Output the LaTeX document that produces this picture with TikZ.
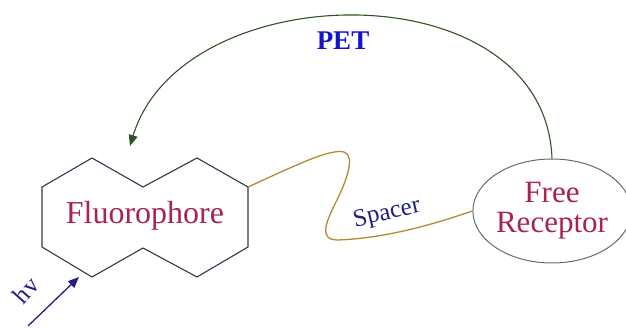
\documentclass[tikz,border=0pt]{standalone}
\usepackage{fontspec}
\setmainfont{Liberation Serif}
\usetikzlibrary{arrows.meta, positioning, shapes.geometric}

\definecolor{labelred}{HTML}{A8234F}
\definecolor{navyline}{HTML}{1F1F85}
\definecolor{petblue}{HTML}{1414C8}
\definecolor{arrowgreen}{HTML}{2F5526}
\definecolor{spacercol}{HTML}{B58A2E}
\definecolor{ringgray}{HTML}{35354F}
\definecolor{ellgray}{HTML}{5F6E62}

\begin{document}
\begin{tikzpicture}[
    x=1pt, y=-1pt,
    ring/.style={draw=ringgray, line width=1.1pt, line join=miter},
    receptor/.style={ellipse, draw=ellgray, line width=1pt, minimum width=144pt, minimum height=104pt, inner sep=0pt, align=center, text=labelred, font=\fontsize{31}{34}\selectfont},
    redlabel/.style={text=labelred, font=\fontsize{32}{34}\selectfont},
    bluelabel/.style={text=navyline, inner sep=1pt, font=\fontsize{25}{27}\selectfont},
    >={Triangle[length=11pt, width=9pt]}
]
\useasboundingbox (0,0) rectangle (626,328);

% Fluorophore outline (two fused rings)
\coordinate (lt) at (42,187);
\coordinate (p1) at (92,158);
\coordinate (v1) at (143,187);
\coordinate (p2) at (197,158);
\coordinate (rt) at (248,187);
\coordinate (rb) at (248,247);
\coordinate (q2) at (197,277);
\coordinate (v2) at (143,248);
\coordinate (q1) at (92,277);
\coordinate (lb) at (42,247);
\draw[ring] (lt) -- (p1) -- (v1) -- (p2) -- (rt) -- (rb) -- (q2) -- (v2) -- (q1) -- (lb) -- cycle;
\node[redlabel] (fluor) at (145,216) {Fluorophore};

% Receptor
\node[receptor] (rec) at (552,211) {Free\\[-4pt]Receptor};

% Spacer chain
\draw[spacercol, line width=1.3pt] (rt) .. controls (290,168) and (330,148) .. (344,152)
    .. controls (356,156) and (346,182) .. (336,202)
    .. controls (326,222) and (318,240) .. (338,240)
    .. controls (390,238) and (440,222) .. (rec.west);
\node[bluelabel, rotate=13] (spacer) at (387,214) {Spacer};

% Electron transfer back to the fluorophore
\coordinate (pettip) at (130,146);
\draw[arrowgreen, line width=1.1pt, ->] (rec.north) .. controls (545,-32) and (182,-26) .. (pettip);
\node[text=petblue, font=\bfseries\fontsize{27}{28}\selectfont] (pet) at (343,41) {PET};

% Excitation
\coordinate (hvstart) at (28,326);
\coordinate (hvtip) at (79,277);
\draw[navyline, line width=1.3pt, ->] (hvstart) -- (hvtip);
\node[bluelabel, rotate=48] (hv) at (26,290) {hv};

\end{tikzpicture}
\end{document}
